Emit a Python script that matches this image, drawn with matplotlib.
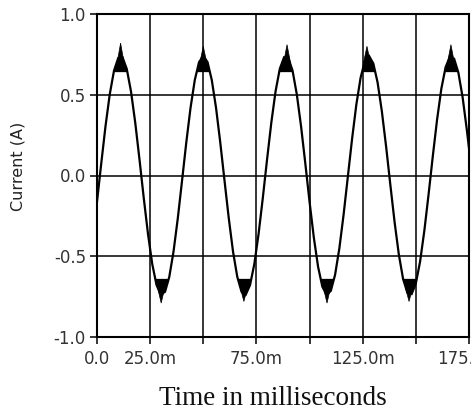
import matplotlib
matplotlib.use("Agg")
import matplotlib.pyplot as plt
import numpy as np

# current samples, one every 2 ms (plus the 175 ms end)
time_ms = list(range(0, 176, 2)) + [175]
current = [
    -0.163, 0.075, 0.305, 0.503, 0.649, 0.728, 0.732, 0.660, 0.520, 0.326,
    0.098, -0.140, -0.363, -0.549, -0.678, -0.737, -0.720, -0.628, -0.471, -0.266,
    -0.033, 0.204, 0.419, 0.591, 0.702, 0.740, 0.702, 0.591, 0.419, 0.203,
    -0.033, -0.266, -0.472, -0.628, -0.720, -0.737, -0.678, -0.549, -0.363, -0.139,
    0.099, 0.327, 0.521, 0.661, 0.732, 0.728, 0.649, 0.502, 0.304, 0.074,
    -0.164, -0.384, -0.565, -0.688, -0.739, -0.714, -0.615, -0.452, -0.243, -0.008,
    0.227, 0.439, 0.605, 0.709, 0.740, 0.693, 0.576, 0.398, 0.180, -0.058,
    -0.289, -0.490, -0.641, -0.725, -0.734, -0.668, -0.532, -0.341, -0.115, 0.123,
    0.348, 0.538, 0.671, 0.735, 0.723, 0.637, 0.484, 0.281, 0.168,
]

# noisy tips at the crests / troughs
peak_t = [11.1, 50.0, 89.4, 127.0, 166.5]
peak_tip = [0.82, 0.80, 0.81, 0.80, 0.81]
trough_t = [30.2, 69.1, 108.2, 146.8]
trough_tip = [-0.79, -0.78, -0.79, -0.78]

xticks = [0, 25, 50, 75, 100, 125, 150, 175]
xtick_labels = ['0.0', '25.0m', '', '75.0m', '', '125.0m', '', '175.0m']
yticks = [-1.0, -0.5, 0.0, 0.5, 1.0]
ytick_labels = ['-1.0', '-0.5', '0.0', '0.5', '1.0']

fig = plt.figure(figsize=(4.71, 4.16), dpi=100)
ax = fig.add_axes([97 / 471, 1 - 337 / 416, 372 / 471, 323 / 416])

ax.plot(time_ms, current, color='black', lw=1.6, solid_joinstyle='miter')

# noise smears the crests into solid blobs
cur = np.array(current)
ax.fill_between(time_ms, 0.64, cur, where=cur > 0.64, interpolate=True,
                color='black', lw=0)
ax.fill_between(time_ms, -0.64, cur, where=cur < -0.64, interpolate=True,
                color='black', lw=0)
for t, tip in zip(peak_t, peak_tip):
    ax.fill([t - 1.6, t, t + 1.6], [0.70, tip, 0.70], color='black', lw=0.5)
for t, tip in zip(trough_t, trough_tip):
    ax.fill([t - 1.6, t, t + 1.6], [-0.70, tip, -0.70], color='black', lw=0.5)

ax.set_xlim(0, 175)
ax.set_ylim(-1.0, 1.0)
ax.set_xticks(xticks)
ax.set_xticklabels(xtick_labels)
ax.set_yticks(yticks)
ax.set_yticklabels(ytick_labels)

ax.grid(True, color='black', lw=1.1)
for s in ax.spines.values():
    s.set_linewidth(1.5)
    s.set_color('black')

ax.tick_params(axis='both', direction='out', length=5, width=1.1,
               colors='black', labelcolor='#333333', labelsize=12)
ax.tick_params(axis='x', pad=4)
ax.tick_params(axis='y', pad=3)

ax.set_ylabel('Current (A)', fontsize=11.5, color='#222222', va='center')
ax.yaxis.set_label_coords((18 - 97) / 372, (337 - 166) / 323)
ax.set_xlabel('Time in milliseconds', fontsize=19.5, family='Liberation Serif',
              color='#111111', va='top')
ax.xaxis.set_label_coords((273 - 97) / 372, -(386 - 337) / 323)

fig.savefig('out.png', dpi=100, facecolor='white')
